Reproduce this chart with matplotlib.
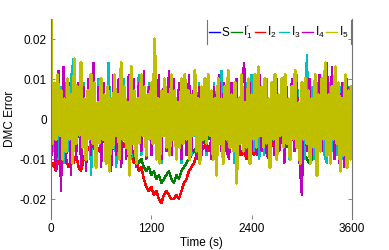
import matplotlib
matplotlib.use('Agg')
import matplotlib.pyplot as plt
from matplotlib.lines import Line2D
import numpy as np

plt.rcParams['font.family'] = ['Liberation Sans', 'DejaVu Sans']
plt.rcParams['mathtext.fontset'] = 'custom'
plt.rcParams['mathtext.rm'] = 'Liberation Sans'
plt.rcParams['path.simplify'] = False  # keep every zigzag of the noisy traces

# sample times (s)
t_fast = np.arange(0, 3601, 20)   # I5
t_mid = np.arange(0, 3601, 30)    # S, I1..I4

# DMC error values, in units of 1e-3
err_s = [
    3, -2, 2, -3, 1, -2, 3, -1, 2, -3,
    2, -1, 3, -2, 1, -3, 2, -2, 3, -1,
    1, -2, 3, -3, 2, -1, 2, -2, 1, -3,
    3, -2, 1, -1, 2, -3, 3, -2, 2, -1,
    2, -3, 1, -2, 3, -1, 2, -2, 1, -3,
    3, -1, 2, -2, 1, -2, 3, -3, 2, -1,
    1, -2, 2, -3, 3, -1, 2, -2, 1, -2,
    3, -2, 1, -3, 2, -1, 3, -2, 2, -3,
    1, -1, 2, -2, 3, -3, 1, -2, 2, -1,
    3, -2, 2, -1, 1, -3, 2, -2, 3, -1,
    2, -3, 1, -2, 2, -1, 3, -2, 1, -3,
    2, -1, 3, -2, 2, -3, 1, -1, 2, -2, 1,
]
err_i1 = [
    10, -3, -5, -4, -6, -3, -4, -5, -3, -4,
    -5, -4, -3, -6, -4, -5, -3, -4, -6, -5,
    -4, -3, -5, -4, -6, -5, -4, -6, -5, -7,
    -6, -8, -7, -9, -10, -11, -10, -12, -13, -12,
    -14, -13, -15, -14, -16, -15, -14, -13, -15, -16,
    -14, -15, -13, -12, -11, -10, -9, -8, -7, -6,
    -5, -6, -4, -5, -3, -4, -5, -3, -4, -5,
    -4, -5, -3, -4, -6, -5, -4, -3, -5, -4,
    -5, -3, -4, -6, -5, -4, -3, -5, -4, -6,
    -5, -4, -6, -5, -7, -6, -5, -4, -6, -7,
    -8, -9, -10, -11, -10, -8, -7, -6, -5, -4,
    -5, -4, -3, -5, -4, -6, -5, -4, -3, -5, -4,
]
err_i2 = [
    -12, -11, -13, -10, -11, -9, -10, -12, -10, -11,
    -9, -12, -13, -10, -8, -7, -9, -6, -7, -8,
    -6, -5, -7, -6, -8, -7, -6, -8, -7, -6,
    -7, -9, -8, -11, -10, -13, -12, -15, -17, -18,
    -17, -19, -18, -20, -21, -19, -18, -19, -20, -20,
    -19, -20, -18, -16, -15, -13, -12, -11, -9, -8,
    -8, -7, -6, -8, -5, -6, -7, -5, -6, -8,
    -6, -5, -7, -6, -8, -7, -9, -8, -10, -9,
    -8, -9, -7, -6, -5, -7, -6, -5, -6, -7,
    -5, -6, -4, -5, -6, -7, -5, -4, -6, -5,
    -6, -5, -7, -6, -4, -5, -6, -5, -7, -6,
    -5, -6, -4, -5, -7, -6, -5, -4, -6, -5, -6,
]
err_i3 = [
    11, -8, 9, -10, 8, -11, 9, -8, 10, 15,
    -9, 8, -10, 9, -8, 10, -14, 8, -9, 10,
    -8, 9, -10, 14, -9, 8, -12, 9, -8, 10,
    -9, 8, -10, 9, -8, 11, -9, 8, -10, 9,
    -8, 10, -9, 8, -11, 9, -8, 10, -9, 8,
    -10, 9, -11, 11, -8, 10, -9, 8, -10, 9,
    -8, 10, -9, 8, -10, 9, -11, 8, 12, -9,
    8, -10, 9, -11, 8, -9, 10, -8, 9, -10,
    11, -8, 9, -10, 8, -9, 10, -11, 8, -9,
    9, -8, 10, -9, 8, -10, 9, -8, 11, -9,
    8, -10, 16, -9, 8, -10, 9, -8, 10, -9,
    -11, 9, -8, 10, -9, 8, -10, 9, -11, 8, -9,
]
err_i4 = [
    -12, 8, -13, 12, -18, 13, -11, 9, -14, 10,
    -10, 9, -12, 8, -13, 10, -9, 14, -11, 8,
    -12, 9, -10, 8, -13, 11, -9, 10, -12, 8,
    -10, 11, -9, 10, -12, 9, -8, 12, -10, 8,
    -9, 10, -8, 11, -10, 9, -8, 12, -9, 10,
    -8, 9, -10, 8, -9, 11, -8, 9, -10, 8,
    -9, 10, -8, 9, -10, 8, -9, 11, -8, 9,
    -8, -10, 9, -8, 10, -9, 8, 14, -9, 10,
    -8, 9, -9, 12, -8, 10, -9, -10, 8, -9,
    10, -8, 9, -11, 8, -9, 10, -8, 9, -10,
    -19, 9, -8, 10, -9, 8, -10, 11, -8, 9,
    14, -9, 13, -10, 8, -11, 9, -12, 10, -9, 8,
]
err_i5 = [
    25, -6, 9, -5, 11, -4, 7, -10, 5, -8,
    10, -5, 6, -11, 15, -6, 8, -4, 14, -7,
    5, -10, 7, -5, 11, -6, 9, -12, 4, -6,
    10, -5, 6, -11, 8, -13, 5, -7, 11, -4,
    6, -10, 14, -5, 8, -7, 4, -14, 13, -6,
    7, -11, 5, -6, 11, -4, 8, -9, 6, -5,
    9, -6, 20, -10, 5, -11, 7, -4, 10, -7,
    6, -9, 11, -5, 7, -10, 4, -7, 10, -6,
    11, -5, 7, -10, 6, -4, 12, -8, 5, -11,
    8, -5, 10, -6, 11, -4, 7, -10, 5, -14,
    10, -6, 5, -11, 8, -5, 12, -7, 6, -8,
    9, -16, 5, -6, 11, -8, 4, -7, 10, -11,
    6, -5, 11, -7, 13, -4, 8, -7, 10, -6,
    5, -12, 9, -5, 11, -10, 6, -4, 10, -7,
    11, -6, 5, -10, 8, -5, 12, -7, 4, -11,
    9, -5, 10, -6, 7, -11, 5, -7, 11, -14,
    6, -8, 10, -5, 14, -9, 6, -11, 8, -5,
    13, -6, 9, -13, 5, -9, 11, -12, 7, -10,
    8,
]

labels = ['S', r'$\mathregular{I^{\prime}_1}$', r'$\mathregular{I_2}$',
          r'$\mathregular{I_3}$', r'$\mathregular{I_4}$', r'$\mathregular{I_5}$']
colors = ['b', 'g', 'r', 'c', 'm', 'y']
widths = [1.0, 1.0, 1.0, 1.0, 1.0, 1.6]

fig = plt.figure(figsize=(3.89, 2.5), dpi=100)
ax = fig.add_axes([0.131, 0.124, 0.774, 0.80])

series = [(t_mid, err_s), (t_mid, err_i1), (t_mid, err_i2),
          (t_mid, err_i3), (t_mid, err_i4), (t_fast, err_i5)]
for (tt, vals), lab, col, lw in zip(series, labels, colors, widths):
    ax.plot(tt, np.array(vals) * 1e-3, color=col, lw=lw, label=lab,
            antialiased=False)

ax.set_xlim(0, 3600)
ax.set_ylim(-0.025, 0.025)
ax.set_xticks([0, 1200, 2400, 3600])
ax.set_yticks([-0.02, -0.01, 0, 0.01, 0.02])
ax.set_yticklabels(['-0.02', '-0.01', '0', '0.01', '0.02'])
ax.set_xlabel('Time (s)', fontsize=8.5, labelpad=1)
ax.set_ylabel('DMC Error', fontsize=8.5, labelpad=3)

for side in ['top', 'bottom']:
    ax.spines[side].set_visible(False)
for side in ['left', 'right']:
    ax.spines[side].set_color('0.45')
    ax.spines[side].set_linewidth(0.8)
ax.tick_params(direction='in', length=3, width=0.6, color='0.45',
               labelsize=8.5, right=True, pad=3)

leg = ax.legend(loc='upper right', ncol=6, frameon=False, fontsize=8.5,
                handlelength=0.9, handletextpad=0.15, columnspacing=0.15,
                borderaxespad=0.1, borderpad=0.2)
for h in leg.get_lines():
    h.set_linewidth(1.0)

# legend box: only its vertical edges show in the reference
fig.canvas.draw()
bb = leg.get_window_extent().transformed(fig.transFigure.inverted())
for xx in (bb.x0, bb.x1):
    fig.add_artist(Line2D([xx, xx], [bb.y0, bb.y1], color='0.45', lw=0.8,
                          transform=fig.transFigure))

fig.savefig('out.png', dpi=100)
